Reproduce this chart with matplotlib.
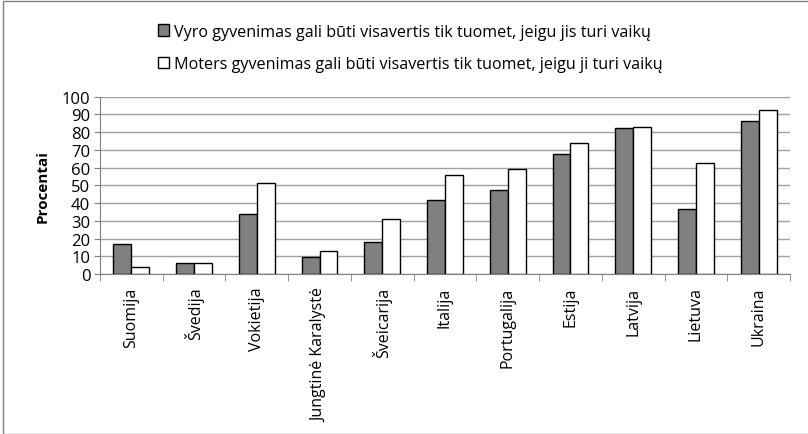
import matplotlib.pyplot as plt
import numpy as np
from matplotlib.patches import Rectangle

plt.rcParams['font.family'] = ['Open Sans', 'DejaVu Sans']

salys = ['Suomija', 'Švedija', 'Vokietija', 'Jungtinė Karalystė', 'Šveicarija',
         'Italija', 'Portugalija', 'Estija', 'Latvija', 'Lietuva', 'Ukraina']
vyrai = [17, 6, 33.6, 9.6, 18, 41.5, 47.6, 67.7, 82.1, 36.8, 86.5]
moterys = [4.1, 6.2, 51.5, 13, 30.8, 55.8, 59.2, 74, 82.7, 62.8, 92.7]
serijos = ['Vyro gyvenimas gali būti visavertis tik tuomet, jeigu jis turi vaikų',
           'Moters gyvenimas gali būti visavertis tik tuomet, jeigu ji turi vaikų']

fig = plt.figure(figsize=(8.08, 4.35), dpi=100)
ax = fig.add_axes([100 / 808, 1 - 275 / 435, 690 / 808, (275 - 97.7) / 435])

x = np.arange(len(salys))
w = 0.285
b1 = ax.bar(x - w / 2, vyrai, w, color='#808080', edgecolor='black', linewidth=1.0, zorder=3)
b2 = ax.bar(x + w / 2, moterys, w, color='white', edgecolor='black', linewidth=1.0, zorder=3)

ax.set_xlim(-0.5, len(salys) - 0.5)
ax.set_ylim(0, 100)
ax.set_yticks(np.arange(0, 101, 10))
ax.yaxis.grid(True, color='#a0a0a0', linewidth=1.0, zorder=0)
ax.set_xticks(x)
ax.set_xticklabels(salys, rotation=90, fontsize=11.5)
ax.set_xticks(np.arange(-0.5, len(salys)), minor=True)
ax.tick_params(axis='x', which='major', length=0, pad=9)
ax.tick_params(axis='x', which='minor', length=5, color='#808080')
ax.tick_params(axis='y', labelsize=12, length=4, color='#808080', pad=3)
for s in ['top', 'right']:
    ax.spines[s].set_visible(False)
for s in ['left', 'bottom']:
    ax.spines[s].set_color('#808080')
ax.set_ylabel('Procentai', fontsize=11, fontweight='bold', labelpad=9)

fig.legend([b1, b2], serijos, loc='upper center', bbox_to_anchor=(0.508, 0.977), ncol=1,
           frameon=False, fontsize=11.6, handlelength=0.7, handleheight=0.7,
           handletextpad=0.3, labelspacing=1.05)

fig.patches.append(Rectangle((3 / 808, 0), 1, 1 - 1.5 / 435, transform=fig.transFigure,
                             fill=False, edgecolor='#808080', linewidth=1.0))

fig.savefig('out.png', dpi=100)
